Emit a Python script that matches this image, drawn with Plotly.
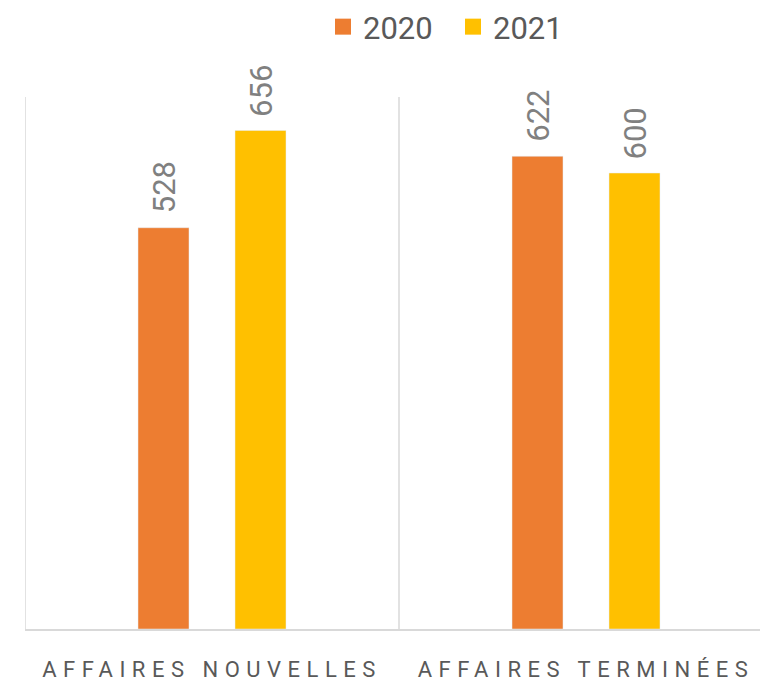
import plotly.graph_objects as go

categories = ["AFFAIRES NOUVELLES", "AFFAIRES TERMINÉES"]
series_names = ["2020", "2021"]
values_2020 = [528, 622]
values_2021 = [656, 600]
colors = ["#ED7D31", "#FFC000"]

# the page body has an 8px margin, so the figure is sized to fit the window
OFF = 8
W, H = 768 - OFF, 684 - OFF
ML, MR, MT, MB = 25 - OFF, 0, 97 - OFF, 55
cat_px = 374.0  # pixel width of one category slot
plot_w = W - ML - MR
x_range = [-0.5, -0.5 + plot_w / cat_px]
y_range = [0, 700]

bargap = 0.4813
bargroupgap = 0.4742
slot_offset = (1 - bargap) / 4  # centre offset of each bar (data units)

fig = go.Figure()
all_vals = [values_2020, values_2021]
for name, vals, col in zip(series_names, all_vals, colors):
    fig.add_trace(go.Bar(
        x=categories, y=vals, name=name, marker_color=col,
        legendgroup=name, showlegend=False, hoverinfo="x+y",
    ))
    # legend proxy with a larger square symbol
    fig.add_trace(go.Scatter(
        x=[None], y=[None], mode="markers", name=name, legendgroup=name,
        marker=dict(symbol="square", size=16, color=col), showlegend=True,
    ))

# rotated value labels above bars
annotations = []
for i, vals in enumerate(all_vals):
    shift = (-1 if i == 0 else 1) * slot_offset * cat_px
    for cat, v in zip(categories, vals):
        annotations.append(dict(
            x=cat, y=v, xref="x", yref="y", text=str(v), showarrow=False,
            textangle=-90, xanchor="center", yanchor="bottom",
            xshift=shift + 1, yshift=12,
            font=dict(family="Roboto", size=31, color="#808080"),
        ))

# category separators (vertical light lines)
shapes = []
for b in [-0.5, 0.5]:
    shapes.append(dict(type="line", xref="x", yref="y", x0=b, x1=b,
                       y0=y_range[0], y1=y_range[1],
                       line=dict(color="#d9d9d9", width=1.5), layer="below"))

ticktext = ['<span style="letter-spacing:6.5px">%s</span>' % c for c in categories]

fig.update_layout(
    width=W, height=H,
    margin=dict(l=ML, r=MR, t=MT, b=MB, pad=0),
    paper_bgcolor="white", plot_bgcolor="white",
    barmode="group", bargap=bargap, bargroupgap=bargroupgap,
    annotations=annotations, shapes=shapes,
    legend=dict(orientation="h", xref="container", yref="container",
                x=(323 - OFF) / W, xanchor="left",
                y=1 - 19 / H, yanchor="middle",
                entrywidth=85, entrywidthmode="pixels",
                font=dict(family="Roboto", size=31, color="#595959"),
                bgcolor="rgba(0,0,0,0)", itemclick=False),
    xaxis=dict(range=x_range, tickmode="array", tickvals=categories,
               ticktext=ticktext, showgrid=False, zeroline=False,
               showline=True, linecolor="#d9d9d9", linewidth=1.5,
               ticks="", ticklabelstandoff=20,
               tickfont=dict(family="Roboto", size=22, color="#595959")),
    yaxis=dict(range=y_range, showgrid=False, zeroline=False,
               showticklabels=False, showline=False, ticks=""),
    font=dict(family="Roboto"),
    showlegend=True,
)

fig.write_html("out.html")
